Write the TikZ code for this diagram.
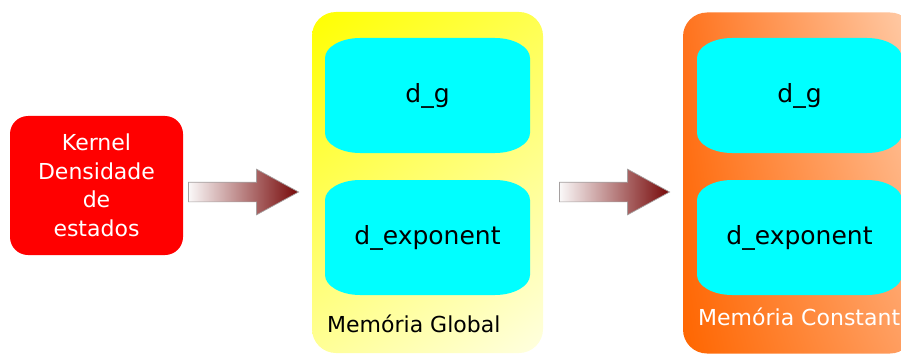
\documentclass[tikz,border=0pt]{standalone}
\usepackage{fontspec}
\setmainfont{DejaVu Sans}
\usetikzlibrary{calc,shapes.arrows,shadings}
\definecolor{kred}{RGB}{255,0,0}
\definecolor{cyanc}{RGB}{0,255,255}
\definecolor{arrdark}{RGB}{118,8,8}
\definecolor{arrlight}{RGB}{250,248,248}
\definecolor{arredge}{RGB}{165,160,160}
\definecolor{yUL}{RGB}{255,255,0}
\definecolor{yUR}{RGB}{255,255,80}
\definecolor{yLL}{RGB}{255,255,150}
\definecolor{yLR}{RGB}{255,255,225}
\definecolor{oUL}{RGB}{255,115,30}
\definecolor{oUR}{RGB}{255,205,170}
\definecolor{oLL}{RGB}{255,102,0}
\definecolor{oLR}{RGB}{255,160,100}
\tikzset{
  kbox/.style={rounded corners=18pt, fill=kred, text=white, minimum width=173pt,
    minimum height=139pt, inner sep=0pt, align=center,
    font=\fontsize{22}{28.5}\selectfont},
  membox/.style={rounded corners=24pt, minimum width=231pt, minimum height=341pt, inner sep=0pt},
  blockarrow/.style={single arrow, anchor=tail, minimum height=110pt, inner xsep=0pt, inner ysep=9.5pt,
    single arrow head extend=13pt, single arrow tip angle=57,
    left color=arrlight, right color=arrdark, draw=arredge, line width=0.7pt},
  cybox/.style={minimum width=205pt, minimum height=115pt, inner sep=0pt,
    font=\fontsize{25}{30}\selectfont, text=black,
    path picture={
      \path (path picture bounding box.north west) coordinate (pNW)
            (path picture bounding box.south east) coordinate (pSE);
      \fill[cyanc] let \p1=(pNW), \p2=(pSE) in
        (\x1,\y1-20pt) .. controls (\x1,\y1-9pt) and (\x1+16pt,\y1) .. (\x1+35pt,\y1)
        -- (\x2-35pt,\y1) .. controls (\x2-16pt,\y1) and (\x2,\y1-9pt) .. (\x2,\y1-20pt)
        -- (\x2,\y2+20pt) .. controls (\x2,\y2+9pt) and (\x2-16pt,\y2) .. (\x2-35pt,\y2)
        -- (\x1+35pt,\y2) .. controls (\x1+16pt,\y2) and (\x1,\y2+9pt) .. (\x1,\y2+20pt)
        -- cycle;
    }},
  memlabel/.style={anchor=base west, inner sep=0pt, font=\fontsize{22}{26}\selectfont}
}
\begin{document}
\begin{tikzpicture}[x=1pt,y=1pt]
\clip (0,0) rectangle (901,354);
\fill[white] (0,0) rectangle (901,354);
% kernel
\node[kbox] (kernel) at (96.5,168.5) {Kernel\\Densidade\\de\\estados};
% memory containers
\node[membox, upper left=yUL, upper right=yUR, lower left=yLL, lower right=yLR] (glob) at (427.5,171.5) {};
\node[membox, upper left=oUL, upper right=oUR, lower left=oLL, lower right=oLR] (const) at (798.5,171) {};
% cyan blocks
\node[cybox] (g1) at (427.5,258.5) {d\_g};
\node[cybox] (e1) at (427.5,116.5) {d\_exponent};
\node[cybox] (g2) at (799.5,258.5) {d\_g};
\node[cybox] (e2) at (799.5,116.5) {d\_exponent};
% labels
\node[memlabel, text=black] (lglob) at (327,22) {Memória Global};
\node[memlabel, text=white] (lconst) at (698,29) {Memória Constante};
% block arrows
\node[blockarrow] (arr1) at ($(kernel.east)+(5,-6.5)$) {};
\node[blockarrow] (arr2) at ($(glob.east)+(16,-9.5)$) {};
\end{tikzpicture}
\end{document}
